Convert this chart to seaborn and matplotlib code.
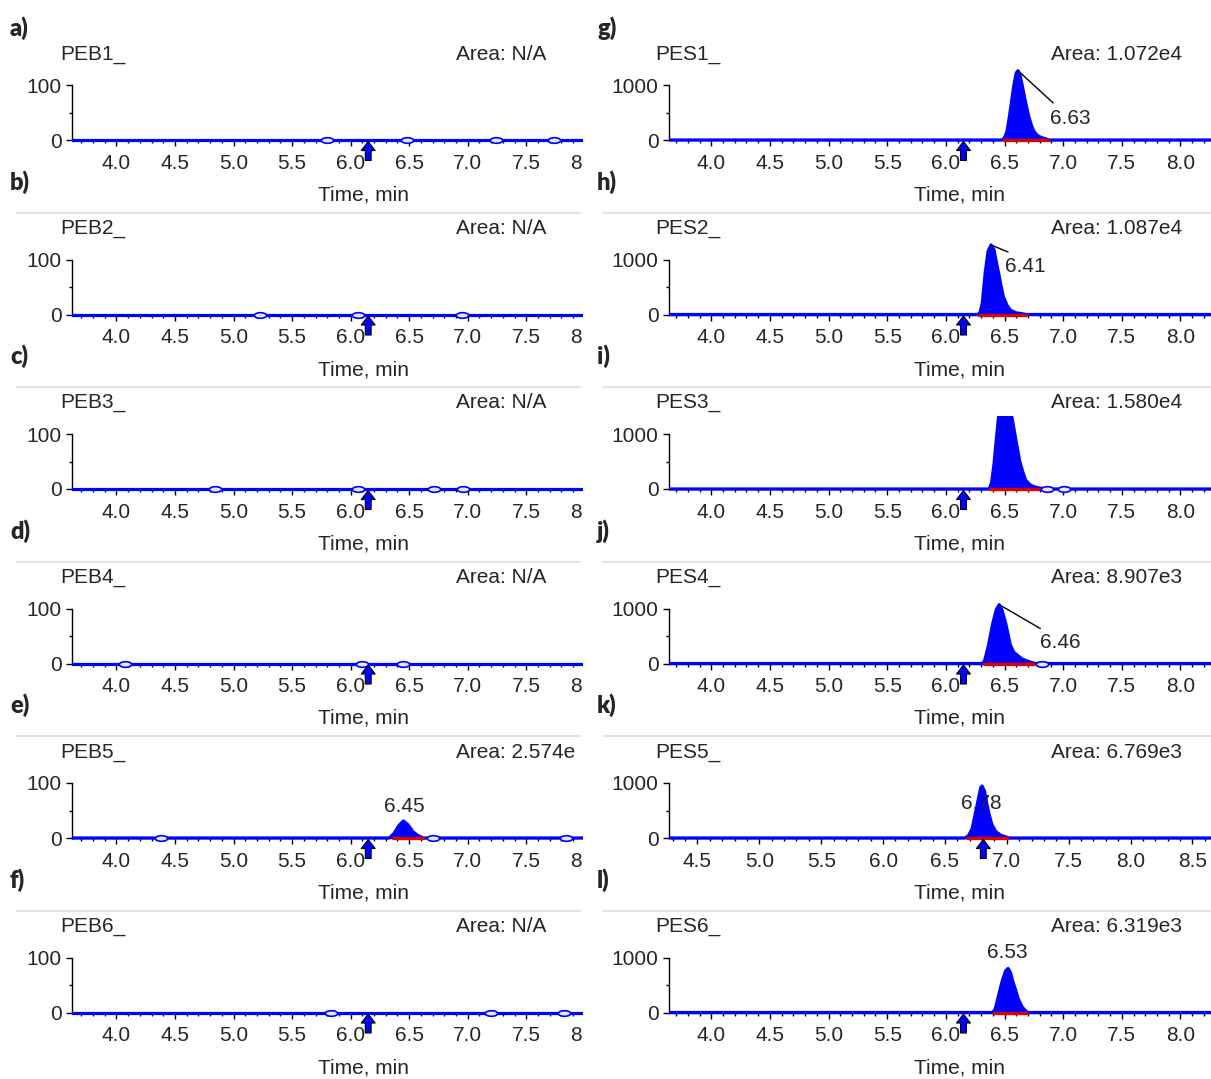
import numpy as np
import pandas as pd
import matplotlib
matplotlib.use("Agg")
import matplotlib.pyplot as plt
import seaborn as sns
from matplotlib.markers import MarkerStyle
from matplotlib.transforms import Affine2D
from matplotlib.patches import Rectangle
from matplotlib.lines import Line2D
from matplotlib.ticker import MultipleLocator, FixedLocator

# ---------------- data ----------------
left_letters = ["a)", "b)", "c)", "d)", "e)", "f)"]
right_letters = ["g)", "h)", "i)", "j)", "k)", "l)"]
left_names = ["PEB1_", "PEB2_", "PEB3_", "PEB4_", "PEB5_", "PEB6_"]
right_names = ["PES1_", "PES2_", "PES3_", "PES4_", "PES5_", "PES6_"]
left_areas = ["Area: N/A", "Area: N/A", "Area: N/A", "Area: N/A", "Area: 2.574e", "Area: N/A"]
right_areas = ["Area: 1.072e4", "Area: 1.087e4", "Area: 1.580e4", "Area: 8.907e3", "Area: 6.769e3", "Area: 6.319e3"]

left_xticks = [4.0, 4.5, 5.0, 5.5, 6.0, 6.5, 7.0, 7.5, 8.0]
right_xticks = [4.0, 4.5, 5.0, 5.5, 6.0, 6.5, 7.0, 7.5, 8.0]
pes5_xticks = [4.5, 5.0, 5.5, 6.0, 6.5, 7.0, 7.5, 8.0, 8.5]

# small noise bumps on baseline (time, min)
left_bumps = [[5.80, 6.48, 7.24, 7.74],
              [5.23, 6.06, 6.95],
              [4.84, 6.06, 6.71, 6.96],
              [4.07, 6.10, 6.45],
              [4.38, 6.70, 7.84],
              [5.83, 7.20, 7.82]]
right_bumps = [[], [], [6.86, 7.01], [6.82], [], []]

# peaks: time and intensity
peb5_t = [6.33, 6.37, 6.41, 6.45, 6.49, 6.53, 6.57, 6.62]
peb5_i = [0, 8, 22, 31, 24, 12, 5, 0]

pes1_t = [6.48, 6.50, 6.52, 6.54, 6.56, 6.58, 6.60, 6.615, 6.63, 6.65, 6.67, 6.69, 6.71, 6.73, 6.75, 6.78, 6.82, 6.86, 6.88]
pes1_i = [0, 40, 150, 400, 700, 1000, 1220, 1260, 1200, 1000, 780, 580, 400, 260, 160, 80, 40, 15, 0]

pes2_t = [6.27, 6.29, 6.31, 6.335, 6.36, 6.385, 6.41, 6.43, 6.45, 6.47, 6.49, 6.52, 6.55, 6.60, 6.66, 6.69]
pes2_i = [0, 30, 200, 750, 1150, 1265, 1180, 950, 750, 520, 320, 170, 80, 30, 10, 0]

pes3_t = [6.37, 6.39, 6.41, 6.43, 6.45, 6.56, 6.58, 6.60, 6.63, 6.66, 6.68, 6.72, 6.77, 6.82, 6.85]
pes3_i = [0, 115, 450, 900, 1330, 1330, 1100, 850, 500, 280, 160, 70, 30, 10, 0]

pes4_t = [6.31, 6.33, 6.36, 6.40, 6.43, 6.455, 6.48, 6.51, 6.55, 6.58, 6.61, 6.65, 6.70, 6.76]
pes4_i = [0, 50, 300, 730, 980, 1070, 960, 730, 330, 200, 150, 80, 40, 0]

pes5_t = [6.66, 6.69, 6.72, 6.76, 6.79, 6.80, 6.82, 6.84, 6.86, 6.88, 6.91, 6.95, 7.02]
pes5_i = [0, 40, 170, 600, 920, 945, 850, 600, 400, 240, 120, 50, 0]

pes6_t = [6.40, 6.42, 6.44, 6.48, 6.51, 6.53, 6.55, 6.57, 6.60, 6.62, 6.65, 6.68, 6.70]
pes6_i = [0, 60, 230, 570, 760, 800, 730, 570, 370, 230, 100, 30, 0]

left_peaks = [None, None, None, None, (peb5_t, peb5_i), None]
right_peaks = [(pes1_t, pes1_i), (pes2_t, pes2_i), (pes3_t, pes3_i),
               (pes4_t, pes4_i), (pes5_t, pes5_i), (pes6_t, pes6_i)]

# integration baselines (red) start/end
left_integ = [None, None, None, None, (6.35, 6.63), None]
right_integ = [(6.49, 6.88), (6.27, 6.69), (6.37, 6.85), (6.32, 6.76), (6.67, 7.02), (6.40, 6.70)]

# retention time labels: text, label pos (t, y), leader line or None, alignment
left_rt = [None, None, None, None, ("6.45", 6.46, 58, None, "center"), None]
right_rt = [("6.63", 6.89, 400, (6.615, 1260, 6.915, 673), "left"),
            ("6.41", 6.505, 869, (6.385, 1265, 6.53, 1136), "left"),
            None,
            ("6.46", 6.805, 387, (6.455, 1070, 6.805, 636), "left"),
            ("6.78", 6.79, 636, None, "center"),
            ("6.53", 6.52, 1090, None, "center")]

# expected-RT arrows
left_arrow = [6.15, 6.15, 6.15, 6.15, 6.15, 6.15]
right_arrow = [6.15, 6.15, 6.15, 6.15, 6.81, 6.15]

# ---------------- layout ----------------
W, H = 1211, 1079
sns.set_style("white")
plt.rcParams["font.family"] = ["Liberation Sans", "DejaVu Sans"]

fig = plt.figure(figsize=(W / 100, H / 100), dpi=100)

ROW = 174.5
BASE0 = 140
PX_UNIT = 55.0  # pixels per y tick (100 or 1000)
FS = 15
BLUE = "#0000ff"
RED = "#e00000"

bump_marker = MarkerStyle("o", transform=Affine2D().scale(1.0, 0.45))


def ftext(x, y, s, **kw):
    kw.setdefault("fontsize", FS)
    kw.setdefault("va", "center")
    return fig.text(x / W, 1 - y / H, s, zorder=20, **kw)


def draw_panel(x0, x1, yb, unit, xlim, xticks, peak, bumps, integ, rt, arrow_t):
    top = yb - 73
    bot = yb + 4
    ax = fig.add_axes([x0 / W, 1 - bot / H, (x1 - x0) / W, (bot - top) / H])
    ax.set_xlim(*xlim)
    ax.set_ylim(-4 / PX_UNIT * unit, 73 / PX_UNIT * unit)
    ax.patch.set_alpha(0)

    if peak is not None:
        t = [xlim[0]] + list(peak[0]) + [xlim[1]]
        v = [0] + list(peak[1]) + [0]
    else:
        t = [xlim[0], xlim[1]]
        v = [0, 0]
    df = pd.DataFrame({"t": t, "v": v})
    if peak is not None:
        ax.fill_between(df["t"], df["v"], 0, color=BLUE, lw=0, zorder=3)
    sns.lineplot(data=df, x="t", y="v", ax=ax, color=BLUE, lw=2.3,
                 sort=False, estimator=None, zorder=4)
    if integ is not None:
        ax.plot(list(integ), [0, 0], color=RED, lw=2.4, zorder=5,
                solid_capstyle="butt")
    if bumps:
        bd = pd.DataFrame({"t": bumps, "v": [0] * len(bumps)})
        sns.scatterplot(data=bd, x="t", y="v", ax=ax, marker=bump_marker,
                        s=80, facecolor="#e6e6e6", edgecolor=BLUE,
                        linewidth=1.2, zorder=6, clip_on=False)

    for s in ["top", "right"]:
        ax.spines[s].set_visible(False)
    ax.spines["bottom"].set_position(("data", 0))
    ax.spines["bottom"].set_color("black")
    ax.spines["bottom"].set_linewidth(1.0)
    ax.spines["bottom"].set_zorder(2)
    ax.spines["left"].set_bounds(0, unit)
    ax.spines["left"].set_color("black")
    ax.spines["left"].set_linewidth(1.0)

    ax.xaxis.set_major_locator(FixedLocator(xticks))
    ax.set_xticklabels([f"{v:.1f}" for v in xticks])
    ax.xaxis.set_minor_locator(MultipleLocator(0.1))
    ax.yaxis.set_major_locator(FixedLocator([0, unit]))
    ax.set_yticklabels(["0", str(unit)])
    ax.yaxis.set_minor_locator(FixedLocator([unit / 2]))
    ax.tick_params(axis="both", which="both", bottom=True, left=True,
                   direction="out", color="black", width=1.0)
    ax.tick_params(axis="x", which="major", length=4.5, pad=5.5, labelsize=FS)
    ax.tick_params(axis="x", which="minor", length=2.2)
    ax.tick_params(axis="y", which="major", length=4.5, pad=3, labelsize=FS)
    ax.tick_params(axis="y", which="minor", length=2.2)
    ax.set_xlabel("")
    ax.set_ylabel("")
    ax.grid(False)

    if rt is not None:
        txt, tx, ty, lead, ha = rt
        ax.text(tx, ty, txt, fontsize=FS, ha=ha, va="center", zorder=8)
        if lead is not None:
            ax.plot([lead[0], lead[2]], [lead[1], lead[3]], color="black",
                    lw=1.0, zorder=7)

    ax.annotate("", xy=(arrow_t, -1.5 / PX_UNIT * unit), xycoords="data",
                xytext=(0, -19), textcoords="offset pixels",
                arrowprops=dict(arrowstyle="simple,head_length=0.65,head_width=1.0,tail_width=0.42",
                                fc=BLUE, ec="black", lw=0.8, shrinkA=0, shrinkB=0,
                                mutation_scale=10),
                annotation_clip=False, zorder=9)
    return ax


for i in range(6):
    yb = BASE0 + ROW * i
    # left column (cropped on the right by a white mask)
    draw_panel(72, 600, yb, 100, (3.62, 8.13), left_xticks, left_peaks[i],
               left_bumps[i], left_integ[i], left_rt[i], left_arrow[i])
    if i == 4:
        xl, xt = (4.27, 8.65), pes5_xticks
    else:
        xl, xt = (3.64, 8.26), right_xticks
    draw_panel(669, 1211, yb, 1000, xl, xt, right_peaks[i],
               right_bumps[i], right_integ[i], right_rt[i], right_arrow[i])

    ty = 54 + ROW * i
    ftext(60, ty, left_names[i], ha="left")
    ftext(456, ty, left_areas[i], ha="left")
    ftext(655, ty, right_names[i], ha="left")
    ftext(1051, ty, right_areas[i], ha="left")
    xy = 195 + ROW * i
    ftext(364, xy, "Time, min", ha="center")
    ftext(959, xy, "Time, min", ha="center")

    if i < 5:
        ly = yb + 72.5
        fig.add_artist(Line2D([17 / W, 580 / W], [1 - ly / H, 1 - ly / H],
                              color="#e4e4e4", lw=1.5, zorder=1))
        fig.add_artist(Line2D([603 / W, 1211 / W], [1 - ly / H, 1 - ly / H],
                              color="#e4e4e4", lw=1.5, zorder=1))

# white gap between the two columns (left column is cropped)
fig.add_artist(Rectangle((582.5 / W, 0), 19.5 / W, 1, transform=fig.transFigure,
                         facecolor="white", edgecolor="none", zorder=15))

# panel letters
lab_y = [28] + [182 + ROW * k for k in range(5)]
for i in range(6):
    ftext(10, lab_y[i], left_letters[i], ha="left", fontweight="heavy",
          fontsize=17, family=["Lato", "DejaVu Sans"])
    ftext(597, lab_y[i], right_letters[i], ha="left", fontweight="heavy",
          fontsize=17, family=["Lato", "DejaVu Sans"])

fig.savefig("out.png", dpi=100, facecolor="white")
